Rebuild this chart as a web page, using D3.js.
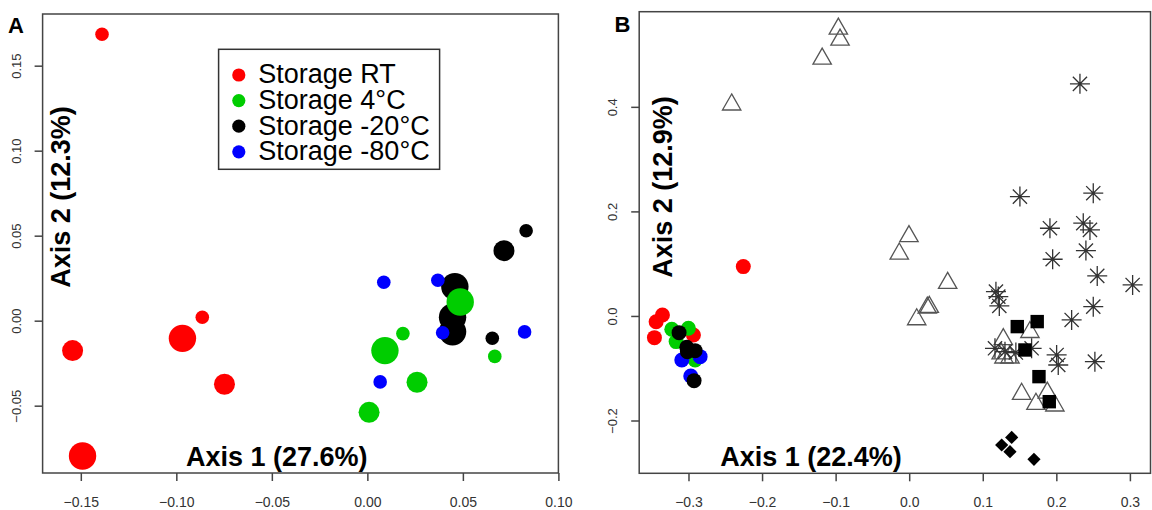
<!DOCTYPE html>
<html lang="en">
<head>
<meta charset="UTF-8">
<title>PCoA storage</title>
<script src="https://d3js.org/d3.v7.min.js"></script>
<style>
  body { margin: 0; background: #fff; }
  text { font-family: "Liberation Sans", Arial, sans-serif; }
</style>
</head>
<body>
<script>
const width = 1152;
const height = 510;

// legend / groups
const groups = ["Storage RT", "Storage 4°C", "Storage -20°C", "Storage -80°C"];
const groupColors = ["#ff0000", "#00cd00", "#000000", "#0000ff"];

// tick labels
const aTicksX = [-0.15, -0.10, -0.05, 0.00, 0.05, 0.10];
const aTicksY = [-0.05, 0.00, 0.05, 0.10, 0.15];
const bTicksX = [-0.3, -0.2, -0.1, 0.0, 0.1, 0.2, 0.3];
const bTicksY = [-0.2, 0.0, 0.2, 0.4];

// panel A: axis1, axis2, size class (1 small, 2 medium, 3 large)
const aRtX = [-0.1389, -0.1543, -0.1491, -0.0968, -0.0864, -0.0748];
const aRtY = [0.1685, -0.0176, -0.0796, -0.0104, 0.0020, -0.0374];
const aRtS = [1, 2, 3, 3, 1, 2];
const a4X = [0.0009, 0.0092, 0.0186, 0.0260, 0.0486, 0.0667];
const a4Y = [-0.0539, -0.0176, -0.0076, -0.0362, 0.0110, -0.0210];
const a4S = [2, 3, 1, 2, 3, 1];
const a20X = [0.0831, 0.0715, 0.0458, 0.0446, 0.0446, 0.0654];
const a20Y = [0.0529, 0.0412, 0.0200, 0.0020, -0.0065, -0.0103];
const a20S = [1, 2, 3, 3, 3, 1];
const a80X = [0.0086, 0.0369, 0.0394, 0.0067, 0.0823];
const a80Y = [0.0226, 0.0238, -0.0071, -0.0360, -0.0066];
const a80S = [1, 1, 1, 1, 1];

// panel B: storage samples (circles)
const bRtX = [-0.3354, -0.3440, -0.3463, -0.2933, -0.2255];
const bRtY = [0.0019, -0.0110, -0.0415, -0.0364, 0.0944];
const b4X = [-0.3227, -0.3001, -0.3168, -0.2910];
const b4Y = [-0.0255, -0.0236, -0.0491, -0.0842];
const b80X = [-0.3091, -0.2842, -0.2969];
const b80Y = [-0.0842, -0.0779, -0.1148];
const b20X = [-0.3128, -0.3023, -0.2910, -0.3015, -0.2924];
const b20Y = [-0.0320, -0.0600, -0.0664, -0.0683, -0.1238];

// panel B: other samples
const triX = [-0.0963, -0.0940, -0.1183, -0.2413, -0.0003, -0.0135, 0.0523, 0.0273, 0.0246, 0.0102,
              0.1279, 0.1641, 0.1288, 0.1370, 0.1250, 0.1528, 0.1877, 0.1723, 0.1980];
const triY = [0.5493, 0.5282, 0.4919, 0.4042, 0.1523, 0.1190, 0.0630, 0.0170, 0.0155, -0.0066,
              -0.0446, -0.0310, -0.0798, -0.0798, -0.0720, -0.1493, -0.1470, -0.1684, -0.1716];
const starX = [0.2321, 0.1505, 0.2502, 0.1913, 0.2366, 0.2457, 0.2402, 0.1950, 0.2556, 0.3037,
               0.1179, 0.1211, 0.1225, 0.2208, 0.2502, 0.1166, 0.1302, 0.1450, 0.1664,
               0.2004, 0.2026, 0.2524];
const starY = [0.4440, 0.2283, 0.2348, 0.1678, 0.1774, 0.1646, 0.1250, 0.1085, 0.0766, 0.0593,
               0.0465, 0.0370, 0.0191, -0.0077, 0.0178, -0.0619, -0.0683, -0.0700, -0.0619,
               -0.0746, -0.0938, -0.0874];
const sqX = [0.1469, 0.1740, 0.1573, 0.1764, 0.1904];
const sqY = [-0.0204, -0.0108, -0.0651, -0.1161, -0.1640];
const diaX = [0.1257, 0.1393, 0.1370, 0.1696];
const diaY = [-0.2469, -0.2323, -0.2597, -0.2743];

const svg = d3.select("body").append("svg")
    .attr("width", width)
    .attr("height", height);

const radius = d3.scaleOrdinal().domain([1, 2, 3]).range([6.8, 10.5, 13.7]);

function pts(xs, ys, ss) {
    return xs.map((v, i) => ({ x: v, y: ys[i], s: ss ? ss[i] : 1 }));
}

function frame(x, y, tx, ty, fmt) {
    const [l, r] = x.range();
    const [b, t] = y.range();
    svg.append("g")
        .attr("transform", `translate(0,${b})`)
        .call(d3.axisBottom(x).tickValues(tx).tickSize(8).tickFormat(d3.format(fmt)))
        .call(a => {
            a.select(".domain").remove();
            a.selectAll("line").attr("stroke", "#444").attr("stroke-width", 1.5);
            a.selectAll("text").attr("y", 33.5).attr("dy", null)
                .attr("fill", "#333").attr("font-size", 14)
                .attr("font-family", "Liberation Sans, Arial, sans-serif");
        });
    svg.append("g")
        .attr("transform", `translate(${l},0)`)
        .call(d3.axisLeft(y).tickValues(ty).tickSize(8).tickFormat(d3.format(fmt)))
        .call(a => {
            a.select(".domain").remove();
            a.selectAll("line").attr("stroke", "#444").attr("stroke-width", 1.5);
            a.selectAll("text").attr("x", 0).attr("dy", null)
                .attr("text-anchor", "middle")
                .attr("transform", "translate(-22,0) rotate(-90)")
                .attr("fill", "#333").attr("font-size", 13)
                .attr("font-family", "Liberation Sans, Arial, sans-serif");
        });
    svg.append("rect")
        .attr("x", l).attr("y", t)
        .attr("width", r - l).attr("height", b - t)
        .attr("fill", "none").attr("stroke", "#444").attr("stroke-width", 1.5);
}

function circles(data, x, y, color, rr) {
    svg.append("g").selectAll("circle")
        .data(data)
        .enter().append("circle")
        .attr("cx", d => x(d.x))
        .attr("cy", d => y(d.y))
        .attr("r", d => rr ? rr : radius(d.s))
        .attr("fill", color);
}

function axisTitles(cx, by, ax1, ax2, bx, cy) {
    svg.append("text")
        .attr("x", cx).attr("y", by)
        .attr("text-anchor", "middle")
        .attr("font-size", 27).attr("font-weight", "bold")
        .text(ax1);
    svg.append("text")
        .attr("transform", `translate(${bx},${cy}) rotate(-90)`)
        .attr("text-anchor", "middle")
        .attr("font-size", 27).attr("font-weight", "bold")
        .text(ax2);
}

// ---------- panel A ----------
const xA = d3.scaleLinear().domain([-0.170, 0.100]).range([42.6, 558.4]);
const yA = d3.scaleLinear().domain([-0.0896, 0.1804]).range([473, 14]);

frame(xA, yA, aTicksX, aTicksY, ".2f");

circles(pts(aRtX, aRtY, aRtS), xA, yA, groupColors[0]);
circles(pts(a20X, a20Y, a20S), xA, yA, groupColors[2]);
circles(pts(a4X, a4Y, a4S), xA, yA, groupColors[1]);
circles(pts(a80X, a80Y, a80S), xA, yA, groupColors[3]);

axisTitles(276.8, 465.7, "Axis 1 (27.6%)", "Axis 2 (12.3%)", 69.5, 197);

// legend
const legend = svg.append("g").attr("transform", "translate(218.6,49.3)");
legend.append("rect")
    .attr("width", 221).attr("height", 120)
    .attr("fill", "#fff").attr("stroke", "#333").attr("stroke-width", 1.5);
legend.selectAll("circle")
    .data(groups)
    .enter().append("circle")
    .attr("cx", 20.2)
    .attr("cy", (d, i) => 25.7 + i * 25.6)
    .attr("r", 6.6)
    .attr("fill", (d, i) => groupColors[i]);
legend.selectAll("text")
    .data(groups)
    .enter().append("text")
    .attr("x", 39.7)
    .attr("y", (d, i) => 34.2 + i * 25.6)
    .attr("font-size", 27)
    .text(d => d);

svg.append("text")
    .attr("x", 8).attr("y", 33.3)
    .attr("font-size", 22).attr("font-weight", "bold")
    .text("A");

// ---------- panel B ----------
const xB = d3.scaleLinear().domain([-0.367, 0.328]).range([639.2, 1150.5]);
const yB = d3.scaleLinear().domain([-0.301, 0.582]).range([473.3, 11.7]);

frame(xB, yB, bTicksX, bTicksY, ".1f");

circles(pts(bRtX, bRtY), xB, yB, groupColors[0], 7.5);
circles(pts(b4X, b4Y), xB, yB, groupColors[1], 7.5);
circles(pts(b80X, b80Y), xB, yB, groupColors[3], 7.5);
circles(pts(b20X, b20Y), xB, yB, groupColors[2], 7.5);

// open triangles (point at centroid)
svg.append("g").selectAll("path")
    .data(pts(triX, triY))
    .enter().append("path")
    .attr("d", d => {
        const cx = xB(d.x), cy = yB(d.y);
        return `M${cx},${cy - 10.7}L${cx + 9.2},${cy + 5.35}L${cx - 9.2},${cy + 5.35}Z`;
    })
    .attr("fill", "none").attr("stroke", "#555").attr("stroke-width", 1.3);

// asterisks
svg.append("g").selectAll("path")
    .data(pts(starX, starY))
    .enter().append("path")
    .attr("d", d => {
        const cx = xB(d.x), cy = yB(d.y), a = 7.1, p = 10;
        return `M${cx - a},${cy - a}L${cx + a},${cy + a}M${cx - a},${cy + a}L${cx + a},${cy - a}` +
            `M${cx - p},${cy}L${cx + p},${cy}M${cx},${cy - p}L${cx},${cy + p}`;
    })
    .attr("fill", "none").attr("stroke", "#333").attr("stroke-width", 1.3);

// filled squares
svg.append("g").selectAll("rect")
    .data(pts(sqX, sqY))
    .enter().append("rect")
    .attr("x", d => xB(d.x) - 6.7)
    .attr("y", d => yB(d.y) - 6.7)
    .attr("width", 13.4).attr("height", 13.4)
    .attr("fill", "#000");

// filled diamonds
svg.append("g").selectAll("path")
    .data(pts(diaX, diaY))
    .enter().append("path")
    .attr("d", d => {
        const cx = xB(d.x), cy = yB(d.y), h = 6.6;
        return `M${cx},${cy - h}L${cx + h},${cy}L${cx},${cy + h}L${cx - h},${cy}Z`;
    })
    .attr("fill", "#000");

axisTitles(811, 465.7, "Axis 1 (22.4%)", "Axis 2 (12.9%)", 672, 187);

svg.append("text")
    .attr("x", 614.6).attr("y", 32.3)
    .attr("font-size", 22).attr("font-weight", "bold")
    .text("B");
</script>
</body>
</html>
